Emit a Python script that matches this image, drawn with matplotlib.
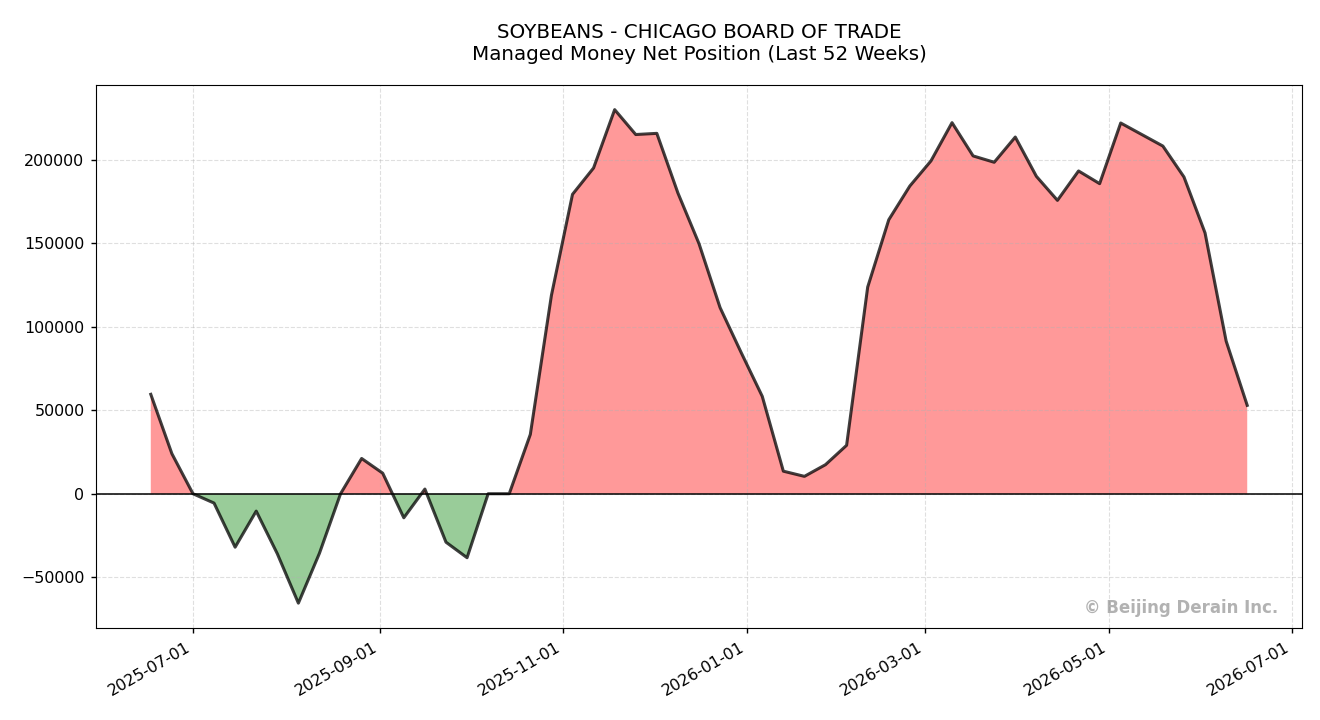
import matplotlib
matplotlib.use("Agg")
import matplotlib.pyplot as plt
import matplotlib.dates as mdates
import numpy as np
import pandas as pd

start_date = "2025-06-17"
n_weeks = 53
net_position = [
    59500, 24000, 0, -5600, -32000, -10400, -35900, -65500, -35600, 0,
    21100, 12300, -14400, 2800, -29000, -38300, 0, 0, 35500, 118700,
    179200, 195000, 229900, 215000, 215700, 180000, 149700, 111400, 84500, 58300,
    13500, 10400, 17400, 29000, 123700, 164000, 184200, 199200, 222100, 202200,
    198400, 213500, 190000, 175600, 193200, 185600, 221900, 215000, 208100, 189600,
    156100, 91400, 52900,
]
title_text = "SOYBEANS - CHICAGO BOARD OF TRADE\nManaged Money Net Position (Last 52 Weeks)"
watermark = "© Beijing Derain Inc."

dates = pd.date_range(start_date, periods=n_weeks, freq="7D")
y = np.array(net_position, dtype=float)

fig, ax = plt.subplots(figsize=(13.2, 7.2), dpi=100)
ax.plot(dates, y, color="black", alpha=0.75, linewidth=2.2, zorder=3)
ax.fill_between(dates, y, 0, where=y >= 0, interpolate=True, color="red", alpha=0.4, linewidth=0)
ax.fill_between(dates, y, 0, where=y <= 0, interpolate=True, color="green", alpha=0.4, linewidth=0)
ax.axhline(0, color="black", linewidth=1.1)

ax.grid(True, linestyle="--", alpha=0.4)
ax.xaxis.set_major_locator(mdates.MonthLocator(bymonth=[1, 3, 5, 7, 9, 11]))
ax.xaxis.set_major_formatter(mdates.DateFormatter("%Y-%m-%d"))
ax.tick_params(axis="both", labelsize=11.4, length=3.8, width=1.0, pad=4.5)
ax.set_title(title_text, fontsize=14.3, pad=18)

ax.text(0.98, 0.02, watermark, transform=ax.transAxes, ha="right", va="bottom",
        fontsize=12, fontweight="bold", color="grey", alpha=0.6)

fig.autofmt_xdate()
fig.subplots_adjust(left=0.0727, right=0.9864, top=0.882, bottom=0.128)
fig.savefig("out.png", dpi=100)
